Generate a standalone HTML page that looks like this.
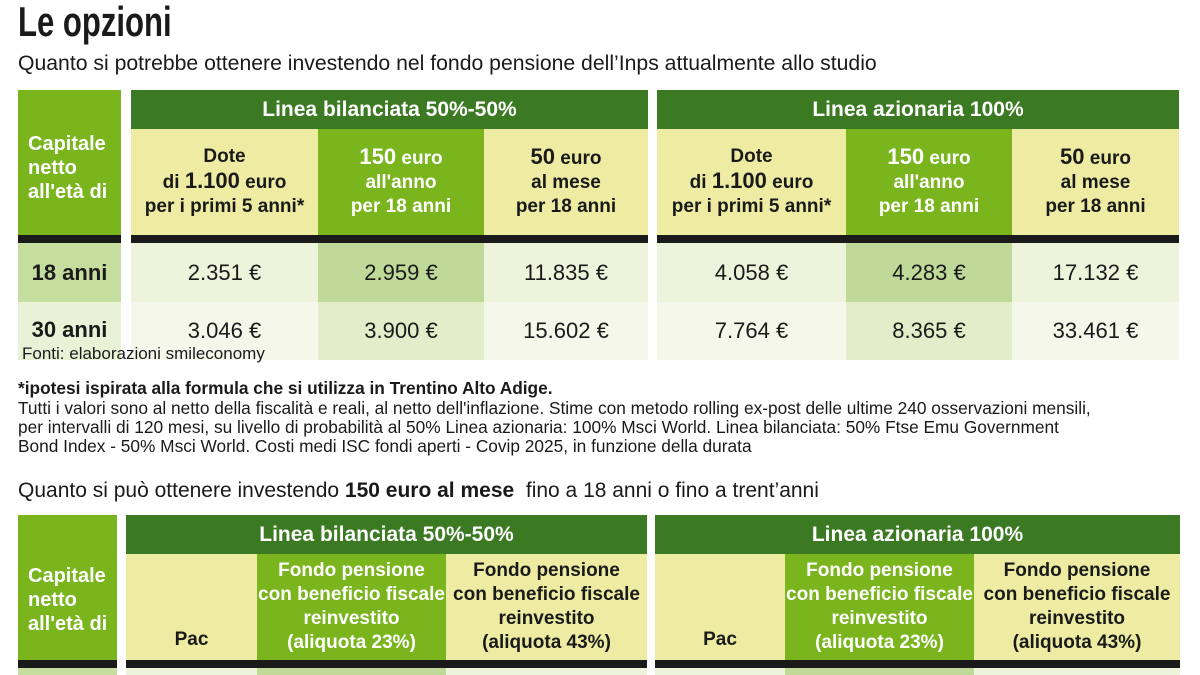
<!DOCTYPE html>
<html><head><meta charset="utf-8"><style>
*{margin:0;padding:0;box-sizing:border-box}
body{width:1200px;height:675px;overflow:hidden;background:#fff;position:relative;font-family:"Liberation Sans Narrow","Liberation Sans",sans-serif;color:#1a1a1a}
.a{position:absolute}
.c{position:absolute;display:flex;align-items:center;justify-content:center;text-align:center;flex-direction:column}
.dg{background:#3b7a22;color:#fff;font-weight:bold;font-size:21px}
.lg{background:#7ab51d;color:#fff;font-weight:bold}
.ye{background:#eeeba3;color:#1a1a1a;font-weight:bold}
.h{font-size:19px;line-height:24px}
.h b{font-size:22px}
.bk{background:#1a1a1a}
.v{font-size:22px;font-weight:normal}
.r1{background:#eef3dc}.r1m{background:#bfd998}
.r2{background:#f4f7ea}.r2m{background:#e2edca}
.lc{align-items:flex-start;text-align:left;padding-left:10px;font-size:20px;line-height:24px}
.t{font-size:17.3px;line-height:19px}
</style></head><body>
<div class="a" style="left:18px;top:-2px;font-size:42px;font-weight:bold;line-height:48px;transform:scaleX(0.74);transform-origin:left top;white-space:nowrap">Le opzioni</div>
<div class="a" style="left:18px;top:50px;font-size:21.2px;line-height:28px;white-space:nowrap">Quanto si potrebbe ottenere investendo nel fondo pensione dell’Inps attualmente allo studio</div>

<!-- top table -->
<div class="c lg lc" style="left:18px;top:90px;width:103px;height:145px;padding-top:10px">Capitale<br>netto<br>all'età di</div>
<div class="a bk" style="left:18px;top:235px;width:103px;height:8px"></div>
<div class="c" style="left:18px;top:243px;width:103px;height:59px;background:#c5de9f;font-weight:bold;font-size:22px">18 anni</div>
<div class="c" style="left:18px;top:302px;width:103px;height:58px;background:#e9f1d7;font-weight:bold;font-size:22px;justify-content:flex-start;padding-top:15px">30 anni</div>

<div class="c dg" style="left:131px;top:90px;width:517px;height:39px">Linea bilanciata 50%-50%</div>
<div class="c dg" style="left:657px;top:90px;width:522px;height:39px">Linea azionaria 100%</div>

<div class="c ye h" style="left:131px;top:129px;width:187px;height:106px">Dote<br><span>di <b>1.100</b> euro</span>per i primi 5 anni*</div>
<div class="c lg h" style="left:318px;top:129px;width:166px;height:106px"><span><b>150</b> euro</span>all'anno<br>per 18 anni</div>
<div class="c ye h" style="left:484px;top:129px;width:164px;height:106px"><span><b>50</b> euro</span>al mese<br>per 18 anni</div>
<div class="c ye h" style="left:657px;top:129px;width:189px;height:106px">Dote<br><span>di <b>1.100</b> euro</span>per i primi 5 anni*</div>
<div class="c lg h" style="left:846px;top:129px;width:166px;height:106px"><span><b>150</b> euro</span>all'anno<br>per 18 anni</div>
<div class="c ye h" style="left:1012px;top:129px;width:167px;height:106px"><span><b>50</b> euro</span>al mese<br>per 18 anni</div>
<div class="a bk" style="left:131px;top:235px;width:517px;height:8px"></div>
<div class="a bk" style="left:657px;top:235px;width:522px;height:8px"></div>

<div class="c v r1" style="left:131px;top:243px;width:187px;height:59px">2.351 €</div>
<div class="c v r1m" style="left:318px;top:243px;width:166px;height:59px">2.959 €</div>
<div class="c v r1" style="left:484px;top:243px;width:164px;height:59px">11.835 €</div>
<div class="c v r1" style="left:657px;top:243px;width:189px;height:59px">4.058 €</div>
<div class="c v r1m" style="left:846px;top:243px;width:166px;height:59px">4.283 €</div>
<div class="c v r1" style="left:1012px;top:243px;width:167px;height:59px">17.132 €</div>
<div class="c v r2" style="left:131px;top:302px;width:187px;height:58px">3.046 €</div>
<div class="c v r2m" style="left:318px;top:302px;width:166px;height:58px">3.900 €</div>
<div class="c v r2" style="left:484px;top:302px;width:164px;height:58px">15.602 €</div>
<div class="c v r2" style="left:657px;top:302px;width:189px;height:58px">7.764 €</div>
<div class="c v r2m" style="left:846px;top:302px;width:166px;height:58px">8.365 €</div>
<div class="c v r2" style="left:1012px;top:302px;width:167px;height:58px">33.461 €</div>
<div class="a" style="left:22px;top:344px;font-size:17px;line-height:20px">Fonti: elaborazioni smileconomy</div>

<div class="a t" style="left:18px;top:379px;font-weight:bold">*ipotesi ispirata alla formula che si utilizza in Trentino Alto Adige.</div>
<div class="a t" style="left:18px;top:399px;white-space:nowrap">Tutti i valori sono al netto della fiscalità e reali, al netto dell'inflazione. Stime con metodo rolling ex-post delle ultime 240 osservazioni mensili,<br>per intervalli di 120 mesi, su livello di probabilità al 50% Linea azionaria: 100% Msci World. Linea bilanciata: 50% Ftse Emu Government<br>Bond Index - 50% Msci World. Costi medi ISC fondi aperti - Covip 2025, in funzione della durata</div>
<div class="a" style="left:18px;top:477px;font-size:21px;line-height:28px;white-space:nowrap">Quanto si può ottenere investendo <b>150 euro al mese</b>&nbsp; fino a 18 anni o fino a trent’anni</div>

<!-- bottom table -->
<div class="c lg lc" style="left:18px;top:515px;width:99px;height:145px;padding-top:25px">Capitale<br>netto<br>all'età di</div>
<div class="a bk" style="left:18px;top:660px;width:99px;height:8px"></div>
<div class="a" style="left:18px;top:668px;width:99px;height:7px;background:#c5de9f"></div>
<div class="c dg" style="left:126px;top:515px;width:521px;height:39px">Linea bilanciata 50%-50%</div>
<div class="c dg" style="left:655px;top:515px;width:525px;height:39px">Linea azionaria 100%</div>
<div class="c ye h" style="left:126px;top:554px;width:131px;height:106px;justify-content:flex-end;padding-bottom:8px">Pac</div>
<div class="c lg h" style="left:257px;top:554px;width:189px;height:106px">Fondo pensione<br>con beneficio fiscale<br>reinvestito<br>(aliquota 23%)</div>
<div class="c ye h" style="left:446px;top:554px;width:201px;height:106px">Fondo pensione<br>con beneficio fiscale<br>reinvestito<br>(aliquota 43%)</div>
<div class="c ye h" style="left:655px;top:554px;width:130px;height:106px;justify-content:flex-end;padding-bottom:8px">Pac</div>
<div class="c lg h" style="left:785px;top:554px;width:189px;height:106px">Fondo pensione<br>con beneficio fiscale<br>reinvestito<br>(aliquota 23%)</div>
<div class="c ye h" style="left:974px;top:554px;width:206px;height:106px">Fondo pensione<br>con beneficio fiscale<br>reinvestito<br>(aliquota 43%)</div>
<div class="a bk" style="left:126px;top:660px;width:521px;height:8px"></div>
<div class="a bk" style="left:655px;top:660px;width:525px;height:8px"></div>
<div class="a r1" style="left:126px;top:668px;width:131px;height:7px"></div>
<div class="a r1m" style="left:257px;top:668px;width:189px;height:7px"></div>
<div class="a r1" style="left:446px;top:668px;width:201px;height:7px"></div>
<div class="a r1" style="left:655px;top:668px;width:130px;height:7px"></div>
<div class="a r1m" style="left:785px;top:668px;width:189px;height:7px"></div>
<div class="a r1" style="left:974px;top:668px;width:206px;height:7px"></div>
</body></html>
